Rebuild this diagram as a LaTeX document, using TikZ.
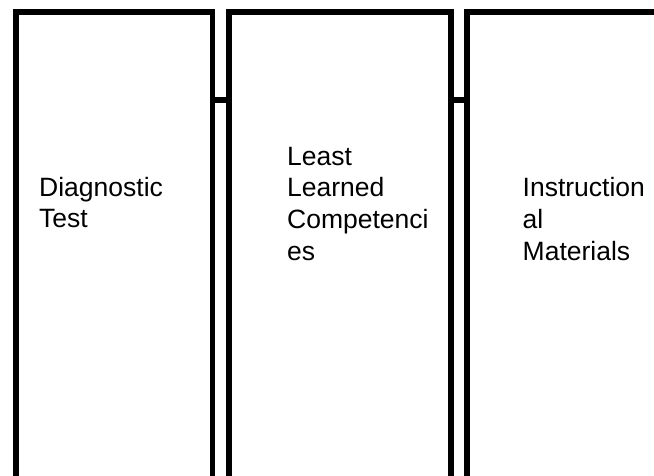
\documentclass[tikz,border=0pt]{standalone}
\usepackage{fontspec}
\setmainfont{Liberation Sans}
\begin{document}
\begin{tikzpicture}[x=1pt,y=1pt,
  box/.style={draw=black,line width=5.6pt,minimum height=488pt,inner sep=0pt,outer sep=0pt,anchor=north west},
  label/.style={anchor=base west,align=left,inner sep=0pt,font=\fontsize{26.5}{31.5}\selectfont},
  link/.style={draw=black,line width=5.6pt}]
\useasboundingbox (0,0) rectangle (654,-476);
\clip (0,0) rectangle (654,-476);
\node[box,minimum width=196.5pt] (b1) at (16,-12) {};
\node[box,minimum width=222pt] (b2) at (229,-12) {};
\node[box,minimum width=240pt] (b3) at (467,-12) {};
\coordinate (y1) at (0,-100);
\draw[link] (b1.east |- y1) -- (b2.west |- y1);
\draw[link] (b2.east |- y1) -- (b3.west |- y1);
\node[label] (t1) at (39,-227.5) {Diagnostic\\Test};
\node[label] (t2) at (287,-260) {Least\\Learned\\Competenci\\es};
\node[label] (t3) at (522.5,-260) {Instruction\\al\\Materials};
\end{tikzpicture}
\end{document}
